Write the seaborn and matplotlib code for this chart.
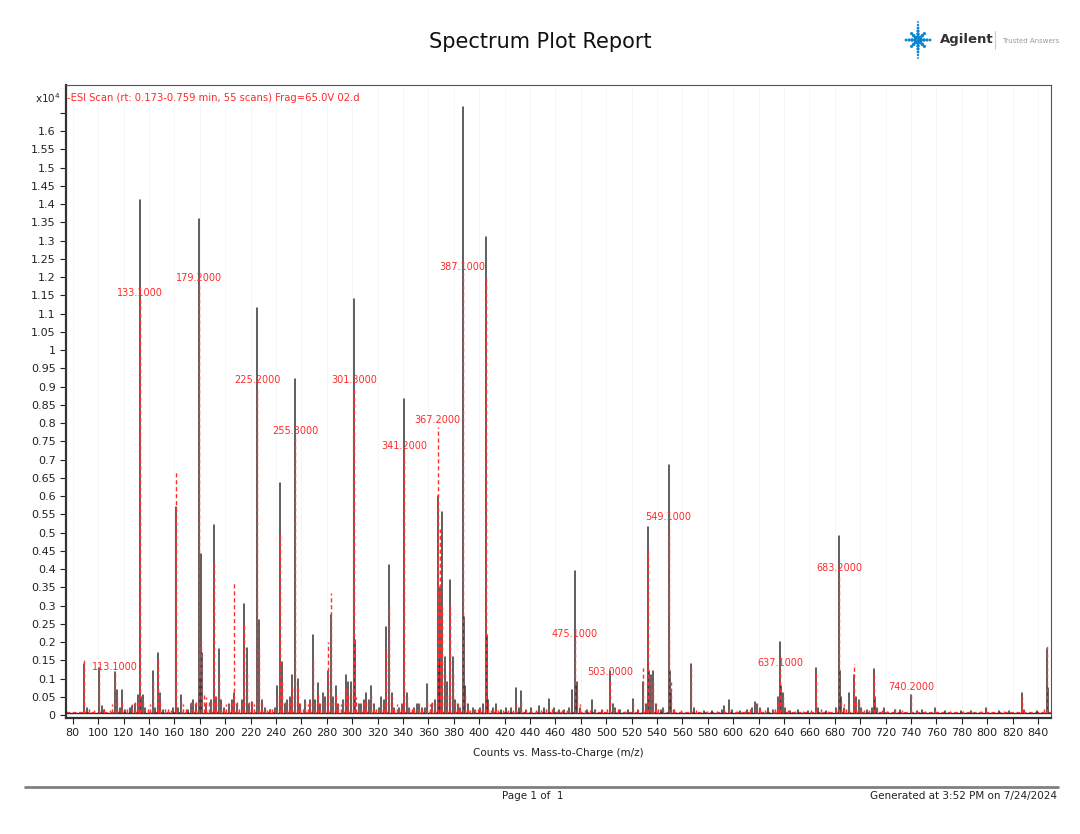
import numpy as np
import pandas as pd
import matplotlib
matplotlib.use("Agg")
import matplotlib.pyplot as plt
from matplotlib.lines import Line2D
import seaborn as sns

# Spectrum Plot Report - overlay of two ESI scans (black = raw, red dashed = annotated)

# black trace: m/z and counts (x10^4)
black_mz = [89, 91, 101, 103, 105, 113, 115, 117, 119, 121, 125, 127, 129, 131, 133.1, 134, 135, 137,
            143, 145, 147, 149, 151, 159, 161, 163, 165, 171, 173, 175, 177, 179.2, 180, 181, 182, 185,
            189, 191, 193, 195, 197, 199, 203, 205, 207, 209, 213, 215, 217, 219, 221, 225.2, 227, 229,
            231, 235, 239, 241, 243, 245, 247, 249, 251, 253, 255.3, 257, 259, 263, 267, 269, 271, 273,
            275, 277, 279, 281, 283, 285, 287, 289, 293, 295, 297, 299, 301.3, 302, 305, 307, 309, 311,
            313, 315, 317, 321, 323, 325, 327, 329, 331, 333, 337, 339, 341.2, 343, 345, 349, 351, 353,
            355, 357, 359, 363, 365, 367.2, 368, 369, 371, 373, 375, 377, 379, 381, 383, 385, 387.1, 388,
            389, 391, 395, 397, 401, 403, 405.1, 406, 407, 411, 413, 417, 421, 425, 429, 431, 433, 437,
            441, 447, 451, 455, 459, 463, 467, 471, 473, 475.1, 476, 477, 479, 485, 489, 491, 497, 503.0,
            505, 507, 511, 517, 521, 525, 529, 531, 533.1, 534, 535, 537, 539, 543, 545, 549.1, 550, 551,
            553, 567, 569, 577, 583, 591, 593, 597, 599, 605, 611, 615, 617, 619, 621, 627, 631, 635,
            637.1, 638, 639, 641, 645, 651, 659, 665.2, 667, 673, 681, 683.2, 684, 685, 687, 691, 695.2,
            697, 699, 701, 705, 709, 711.2, 712, 713, 719, 727, 731, 740.2, 745, 749, 759, 767, 779, 787,
            799, 809, 817, 827, 829, 839, 847, 848]
black_counts = [0.14, 0.02, 0.13, 0.025, 0.015, 0.118, 0.07, 0.02, 0.07, 0.015, 0.02, 0.025, 0.03, 0.055, 1.41, 0.05, 0.055, 0.02,
                0.12, 0.02, 0.17, 0.06, 0.015, 0.02, 0.57, 0.02, 0.055, 0.015, 0.03, 0.04, 0.03, 1.36, 0.1, 0.44, 0.17, 0.03,
                0.04, 0.52, 0.05, 0.18, 0.04, 0.02, 0.03, 0.04, 0.06, 0.03, 0.04, 0.305, 0.185, 0.03, 0.035, 1.115, 0.26, 0.04,
                0.02, 0.015, 0.02, 0.08, 0.635, 0.145, 0.03, 0.04, 0.05, 0.11, 0.92, 0.1, 0.03, 0.04, 0.04, 0.22, 0.04, 0.087,
                0.03, 0.06, 0.05, 0.12, 0.275, 0.05, 0.08, 0.03, 0.04, 0.11, 0.09, 0.09, 1.14, 0.205, 0.03, 0.03, 0.04, 0.06,
                0.04, 0.08, 0.03, 0.02, 0.05, 0.04, 0.24, 0.41, 0.06, 0.02, 0.02, 0.03, 0.865, 0.06, 0.02, 0.02, 0.03, 0.03,
                0.02, 0.02, 0.085, 0.03, 0.04, 0.6, 0.15, 0.35, 0.555, 0.16, 0.09, 0.37, 0.16, 0.04, 0.03, 0.02, 1.665, 0.27,
                0.08, 0.03, 0.02, 0.015, 0.02, 0.03, 1.31, 0.22, 0.04, 0.02, 0.03, 0.015, 0.02, 0.02, 0.075, 0.02, 0.065, 0.015,
                0.02, 0.025, 0.02, 0.045, 0.02, 0.015, 0.015, 0.02, 0.07, 0.395, 0.08, 0.09, 0.02, 0.015, 0.04, 0.015, 0.015, 0.12,
                0.03, 0.02, 0.015, 0.015, 0.045, 0.015, 0.09, 0.03, 0.515, 0.12, 0.11, 0.12, 0.03, 0.015, 0.02, 0.685, 0.12, 0.06,
                0.015, 0.14, 0.02, 0.01, 0.01, 0.015, 0.025, 0.04, 0.015, 0.01, 0.015, 0.02, 0.035, 0.03, 0.02, 0.02, 0.015, 0.05,
                0.2, 0.08, 0.06, 0.02, 0.01, 0.015, 0.01, 0.13, 0.02, 0.01, 0.02, 0.49, 0.12, 0.05, 0.02, 0.06, 0.11,
                0.05, 0.04, 0.02, 0.015, 0.02, 0.125, 0.05, 0.02, 0.02, 0.015, 0.015, 0.055, 0.01, 0.015, 0.02, 0.01, 0.01, 0.01,
                0.02, 0.01, 0.01, 0.06, 0.015, 0.01, 0.18, 0.075]

# red dashed trace (the annotated spectrum): main peaks
red_mz = [89, 101, 105, 113.1, 115, 119, 127, 131, 133.1, 135, 143, 147, 149, 155, 161, 165, 175, 179.2,
          181, 183, 191, 195, 201, 207, 215, 217, 225.2, 227, 235, 243, 245, 253, 255.3, 257, 265, 269,
          273, 281, 283, 287, 291, 295, 299, 301.3, 303, 311, 315, 323, 327, 329, 335, 341.2, 343, 355,
          361, 367.2, 369, 371, 373, 377, 379, 387.1, 389, 399, 405.1, 407, 419, 433, 445, 461, 469, 475.1,
          477, 487, 503.0, 509, 515, 529, 533.1, 535, 537, 541, 549.1, 551, 567, 587, 609, 617, 625, 637.1,
          639, 655, 665.2, 675, 683.2, 685, 695.2, 697, 703, 711.2, 721, 740.2, 751, 771, 795, 813, 827, 847]
red_counts = [0.153, 0.14, 0.02, 0.115, 0.05, 0.04, 0.03, 0.04, 1.14, 0.04, 0.1, 0.15, 0.04, 0.02, 0.67, 0.04, 0.03, 1.18,
              0.2, 0.06, 0.42, 0.12, 0.03, 0.365, 0.25, 0.12, 0.9, 0.18, 0.02, 0.5, 0.1, 0.08, 0.76, 0.08, 0.03, 0.15,
              0.06, 0.2, 0.335, 0.06, 0.03, 0.08, 0.07, 0.9, 0.05, 0.04, 0.06, 0.03, 0.18, 0.3, 0.03, 0.72, 0.05, 0.02,
              0.03, 0.79, 0.51, 0.3, 0.12, 0.3, 0.12, 1.21, 0.06, 0.02, 1.2, 0.03, 0.015, 0.04, 0.015, 0.01, 0.015, 0.205,
              0.07, 0.015, 0.1, 0.02, 0.01, 0.13, 0.45, 0.1, 0.09, 0.02, 0.525, 0.09, 0.13, 0.01, 0.01, 0.03, 0.015, 0.125,
              0.05, 0.01, 0.12, 0.01, 0.385, 0.04, 0.14, 0.04, 0.015, 0.11, 0.01, 0.06, 0.01, 0.01, 0.01, 0.01, 0.05, 0.19]

# red dashed trace: low-level grass near the baseline
red_small_mz = [93, 97, 109, 111, 123, 129, 139, 141, 153, 157, 167, 169, 173, 177, 185, 187, 189, 193, 197,
                199, 203, 205, 209, 211, 213, 219, 221, 223, 229, 231, 233, 237, 239, 241, 247, 249, 251, 259,
                261, 263, 267, 271, 275, 277, 279, 285, 289, 293, 297, 305, 307, 309, 313, 317, 319, 321, 325,
                331, 333, 337, 339, 345, 347, 349, 351, 353, 357, 359, 363, 365, 375, 381, 383, 385, 391, 393,
                395, 397, 401, 403, 409, 411, 413, 415, 423, 427, 429, 437, 441, 449, 453, 457, 465, 471, 479,
                483, 491, 497, 501, 505, 521, 525, 531, 539, 545, 553, 559, 571, 579, 593, 597, 603, 613, 619,
                621, 631, 633, 635, 643, 649, 661, 669, 681, 687, 689, 691, 699, 701, 707, 713, 717, 727, 733,
                745, 759, 781, 799, 829, 845]
red_small_counts = [0.02, 0.015, 0.015, 0.03, 0.025, 0.035, 0.02, 0.03, 0.025, 0.015, 0.03, 0.02, 0.035, 0.04, 0.05, 0.04, 0.045, 0.05, 0.03,
                    0.025, 0.03, 0.035, 0.04, 0.02, 0.03, 0.035, 0.04, 0.03, 0.03, 0.02, 0.015, 0.02, 0.025, 0.06, 0.035, 0.03, 0.045, 0.03,
                    0.02, 0.04, 0.035, 0.03, 0.03, 0.05, 0.045, 0.04, 0.03, 0.035, 0.06, 0.03, 0.025, 0.035, 0.03, 0.025, 0.02, 0.025, 0.03,
                    0.05, 0.02, 0.025, 0.03, 0.025, 0.02, 0.02, 0.025, 0.03, 0.02, 0.04, 0.035, 0.03, 0.06, 0.04, 0.03, 0.025, 0.02, 0.015,
                    0.015, 0.015, 0.02, 0.025, 0.015, 0.02, 0.025, 0.015, 0.015, 0.015, 0.03, 0.015, 0.02, 0.015, 0.02, 0.025, 0.015, 0.02, 0.03,
                    0.015, 0.02, 0.015, 0.02, 0.025, 0.03, 0.015, 0.025, 0.03, 0.02, 0.02, 0.015, 0.015, 0.01, 0.015, 0.025, 0.01, 0.02, 0.03,
                    0.02, 0.015, 0.02, 0.04, 0.015, 0.01, 0.015, 0.02, 0.02, 0.03, 0.02, 0.03, 0.04, 0.025, 0.015, 0.02, 0.015, 0.02, 0.015,
                    0.01, 0.015, 0.01, 0.015, 0.015, 0.02]

# annotated peaks (label text sits at the red peak top)
label_mz = [113.1, 133.1, 179.2, 225.2, 255.3, 301.3, 341.2, 367.2, 387.1, 475.1, 503.0, 549.1, 637.1, 683.2, 740.2]

y_ticks = np.round(np.arange(0, 1.651, 0.05), 2)
x_ticks = list(range(80, 841, 20))


def stems(mz, counts, base):
    rows = []
    for i, (m, c) in enumerate(zip(mz, counts)):
        rows.append((i, m, base))
        rows.append((i, m, c))
    return pd.DataFrame(rows, columns=["pid", "mz", "counts"])


sns.set_theme(style="white")
plt.rcParams["font.family"] = ["DejaVu Sans"]

fig = plt.figure(figsize=(10.8, 8.34), dpi=100)
ax = fig.add_axes([66 / 1080, 1 - 718 / 834, (1051 - 66) / 1080, (718 - 85) / 834])

black_df = stems(black_mz, black_counts, 0.005)
red_df = stems(red_mz + red_small_mz, red_counts + red_small_counts, 0.007)

# baselines
sns.lineplot(x=[74.7, 850.2], y=[0.005, 0.005], color="#303030", lw=1.0, ax=ax)
sns.lineplot(x=[74.7, 850.2], y=[0.008, 0.008], color="#ff3030", lw=0.9, linestyle=(0, (3, 2)), ax=ax)

sns.lineplot(data=black_df, x="mz", y="counts", units="pid", estimator=None, sort=False,
             color="#333333", lw=1.1, ax=ax)
sns.lineplot(data=red_df, x="mz", y="counts", units="pid", estimator=None, sort=False,
             color="#ff3030", lw=1.0, linestyle=(0, (3, 2)), ax=ax)

red_lookup = dict(zip(red_mz, red_counts))
for m in label_mz:
    ax.annotate(f"{m:.4f}", xy=(m, red_lookup[m]), xytext=(0, 1), textcoords="offset points",
                ha="center", va="bottom", color="#ff2a2a", fontsize=7)

ax.set_xlim(74.7, 850.2)
ax.set_ylim(-0.008, 1.726)
ax.set_xticks(x_ticks)
ax.set_xticklabels([str(v) for v in x_ticks])
ax.set_yticks(y_ticks)
ax.set_yticklabels([f"{v:g}" if v < 1.62 else "" for v in y_ticks])
ax.tick_params(axis="both", direction="out", length=4, width=0.8, labelsize=8,
               left=True, bottom=True, colors="#222222")
ax.grid(axis="x", color="#f4f4f4", lw=0.5)
ax.set_ylabel("")
ax.set_xlabel("Counts vs. Mass-to-Charge (m/z)", fontsize=7.5, labelpad=7, color="#222222")
for side in ["left", "bottom"]:
    ax.spines[side].set_linewidth(1.6)
    ax.spines[side].set_color("#333333")
for side in ["top", "right"]:
    ax.spines[side].set_linewidth(0.8)
    ax.spines[side].set_color("#555555")

# header texts
fig.text(540 / 1080, 1 - 42 / 834, "Spectrum Plot Report", ha="center", va="center", fontsize=15, color="#111111")
fig.text(61 / 1080, 1 - 98 / 834, "x10$^4$", ha="right", va="center", fontsize=7.5, color="#222222")
fig.text(67 / 1080, 1 - 98 / 834, "-ESI Scan (rt: 0.173-0.759 min, 55 scans) Frag=65.0V 02.d",
         ha="left", va="center", fontsize=7.2, color="#ff2a2a")

# Agilent logo
logo = fig.add_axes([896 / 1080, 1 - 62 / 834, 44 / 1080, 44 / 834])
logo.set_xlim(-22, 22)
logo.set_ylim(-22, 22)
logo.axis("off")
for ang in range(0, 360, 45):
    reach = 18 if ang in (90, 270) else (14 if ang in (0, 180) else 11)
    dist = np.arange(3, reach + 1, 3)
    rad = np.deg2rad(ang)
    logo.scatter(dist * np.cos(rad), dist * np.sin(rad), s=9 - dist * 0.4, color="#0a86d1", lw=0)
logo.scatter([0], [0], s=6, color="#0a86d1", lw=0)
fig.text(940 / 1080, 1 - 40 / 834, "Agilent", ha="left", va="center", fontsize=9.5,
         fontweight="bold", color="#333333")
fig.add_artist(Line2D([995 / 1080, 995 / 1080], [1 - 31 / 834, 1 - 49 / 834], color="#cccccc", lw=0.8))
fig.text(1002 / 1080, 1 - 41 / 834, "Trusted Answers", ha="left", va="center", fontsize=5, color="#9a9a9a")

# footer
fig.add_artist(Line2D([25 / 1080, 1058 / 1080], [1 - 787 / 834, 1 - 787 / 834], color="#808080", lw=2))
fig.text(533 / 1080, 1 - 796 / 834, "Page 1 of  1", ha="center", va="center", fontsize=7.5, color="#222222")
fig.text(1057 / 1080, 1 - 796 / 834, "Generated at 3:52 PM on 7/24/2024", ha="right", va="center",
         fontsize=7.5, color="#222222")

fig.savefig("out.png", dpi=100, facecolor="white")
